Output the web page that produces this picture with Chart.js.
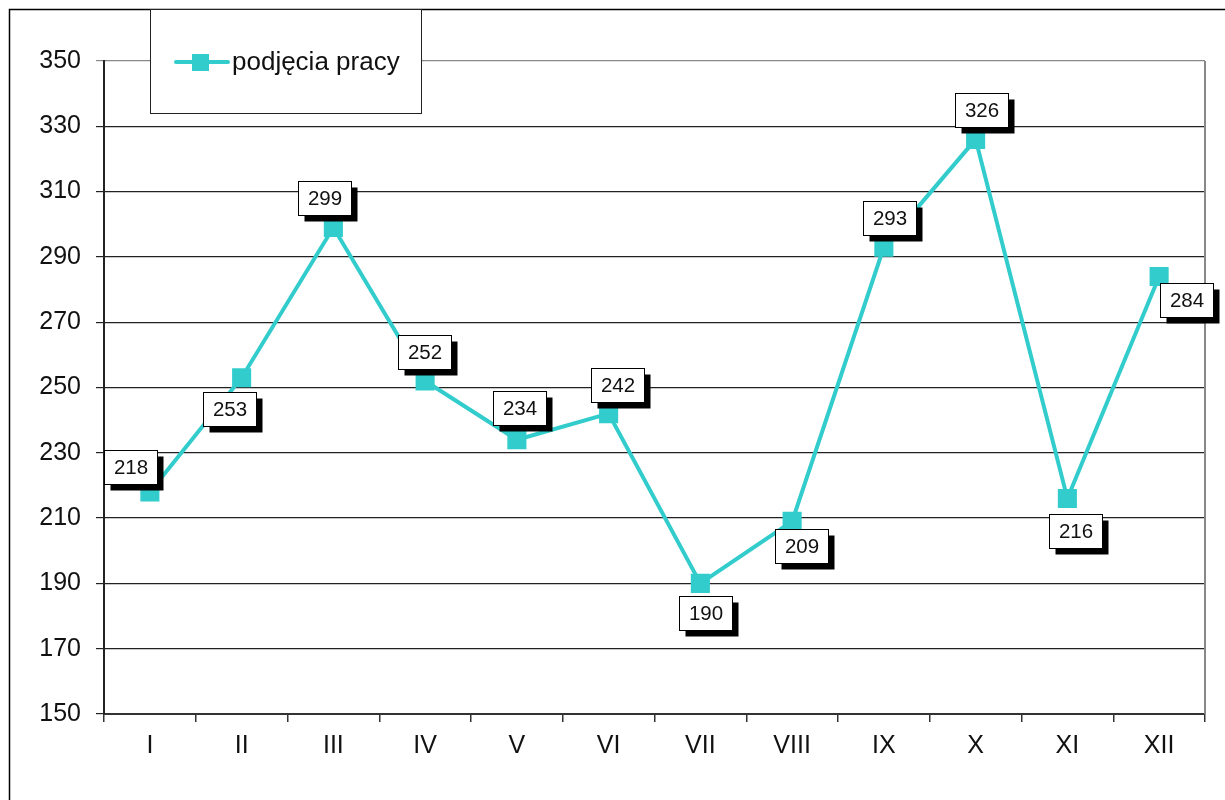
<!DOCTYPE html>
<html>
<head>
<meta charset="utf-8">
<script src="https://cdn.jsdelivr.net/npm/chart.js@4/dist/chart.umd.min.js"></script>
<style>
  html, body { margin: 0; padding: 0; background: #fff; }
  #wrap { width: 1225px; height: 800px; position: relative; }
</style>
</head>
<body>
<div id="wrap"><canvas id="c" width="1225" height="800"></canvas></div>
<script>
const months = ["I", "II", "III", "IV", "V", "VI", "VII", "VIII", "IX", "X", "XI", "XII"];
const hires = [218, 253, 299, 252, 234, 242, 190, 209, 293, 326, 216, 284];
const seriesName = "podjęcia pracy";
const yTicks = [150, 170, 190, 210, 230, 250, 270, 290, 310, 330, 350];

// where each value box sits relative to its point (dx, dy in px)
const labelOffsets = [
  [-19, -25], [-12, 31], [-9, -30], [-1, -29], [3, -32], [9, -29],
  [5, 30], [9, 25], [6, -29], [6, -29], [8, 32], [27, 24]
];

const FONT = "Liberation Sans, Arial, sans-serif";
const TEAL = "#33CCCC";

const decorations = {
  id: "decorations",
  beforeDraw(chart) {
    const ctx = chart.ctx;
    ctx.save();
    ctx.fillStyle = "#fff";
    ctx.fillRect(0, 0, chart.width, chart.height);
    ctx.restore();
  },
  afterDatasetsDraw(chart) {
    const ctx = chart.ctx;
    const area = chart.chartArea;
    ctx.save();
    // outer frame (top and left)
    ctx.strokeStyle = "#000";
    ctx.lineWidth = 1.5;
    ctx.beginPath();
    ctx.moveTo(9.5, chart.height);
    ctx.lineTo(9.5, 9.5);
    ctx.lineTo(chart.width, 9.5);
    ctx.stroke();

    // right border of plot area
    ctx.strokeStyle = "#888";
    ctx.lineWidth = 2;
    ctx.beginPath();
    ctx.moveTo(area.right, area.top);
    ctx.lineTo(area.right, area.bottom);
    ctx.stroke();

    // value boxes
    const meta = chart.getDatasetMeta(0);
    ctx.font = "20.5px " + FONT;
    ctx.textAlign = "center";
    ctx.textBaseline = "middle";
    meta.data.forEach((pt, i) => {
      const [dx, dy] = labelOffsets[i];
      const cx = pt.x + dx, cy = pt.y + dy;
      const w = 53, h = 34;
      const x0 = Math.round(cx - w / 2) + 0.5, y0 = Math.round(cy - h / 2) + 0.5;
      ctx.fillStyle = "#000";
      ctx.fillRect(x0 + 6, y0 + 6, w, h);
      ctx.fillStyle = "#fff";
      ctx.fillRect(x0, y0, w, h);
      ctx.strokeStyle = "#000";
      ctx.lineWidth = 1;
      ctx.strokeRect(x0, y0, w, h);
      ctx.fillStyle = "#111";
      ctx.fillText(String(hires[i]), x0 + w / 2, y0 + h / 2 + 1);
    });

    // legend box
    ctx.fillStyle = "#fff";
    ctx.fillRect(150, 9.5, 271, 104);
    ctx.strokeStyle = "#222";
    ctx.lineWidth = 1;
    ctx.strokeRect(150.5, 9.5, 271, 104);
    ctx.strokeStyle = TEAL;
    ctx.lineWidth = 4;
    ctx.lineCap = "round";
    ctx.beginPath();
    ctx.moveTo(176, 62);
    ctx.lineTo(228, 62);
    ctx.stroke();
    ctx.fillStyle = TEAL;
    ctx.fillRect(192, 54, 17, 17);
    ctx.fillStyle = "#111";
    ctx.font = "26px " + FONT;
    ctx.textAlign = "left";
    ctx.textBaseline = "middle";
    ctx.fillText(seriesName, 232, 63);
    ctx.restore();
  }
};

new Chart(document.getElementById("c"), {
  type: "line",
  data: {
    labels: months,
    datasets: [{
      label: seriesName,
      data: hires,
      borderColor: TEAL,
      backgroundColor: TEAL,
      borderWidth: 4,
      pointStyle: "rect",
      pointRadius: 13.5,
      pointHoverRadius: 13.5,
      pointBorderWidth: 0,
      tension: 0
    }]
  },
  options: {
    responsive: false,
    animation: false,
    events: [],
    layout: { padding: { left: 0, right: 20, top: 61, bottom: 0 } },
    plugins: {
      legend: { display: false },
      tooltip: { enabled: false }
    },
    scales: {
      x: {
        offset: true,
        afterFit(scale) { scale.height = 86; },
        grid: {
          offset: true,
          drawOnChartArea: false,
          color: "#333",
          tickLength: 8,
          lineWidth: 1.5
        },
        border: { color: "#333", width: 2 },
        ticks: {
          color: "#111",
          font: { family: FONT, size: 25 },
          padding: 9,
          maxRotation: 0
        }
      },
      y: {
        min: 150,
        max: 350,
        afterFit(scale) { scale.width = 104; },
        afterBuildTicks(scale) { scale.ticks = yTicks.map(v => ({ value: v })); },
        grid: {
          color: ctx => (ctx.tick && ctx.tick.value === 350 ? "#888" : "#222"),
          lineWidth: 1.2,
          tickLength: 8
        },
        border: { color: "#222", width: 2 },
        ticks: {
          color: "#111",
          font: { family: FONT, size: 25 },
          padding: 15
        }
      }
    }
  },
  plugins: [decorations]
});
</script>
</body>
</html>
